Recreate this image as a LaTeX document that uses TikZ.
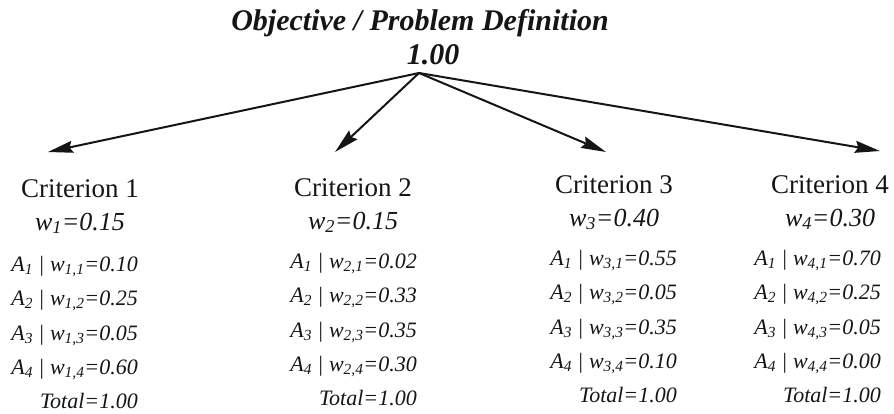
\documentclass[tikz,border=0pt]{standalone}
\usepackage{fontspec}
\setmainfont{Liberation Serif}
\usetikzlibrary{arrows.meta}
\definecolor{Ink}{HTML}{151515}
\tikzset{
    goal/.style={text=Ink, font=\fontsize{30}{32}\selectfont\bfseries\itshape, anchor=base, inner sep=0pt},
    crit/.style={text=Ink, font=\fontsize{27}{29}\selectfont, anchor=base, inner sep=0pt},
    wgt/.style={text=Ink, font=\fontsize{26}{28}\selectfont\itshape, anchor=base, inner sep=0pt},
    alt/.style={text=Ink, font=\fontsize{22}{24}\selectfont\itshape, anchor=base east, inner sep=0pt},
    branch/.style={Ink, line width=2pt, -{Stealth[length=25pt, width=12pt, inset=3pt]}}
}
\NewDocumentCommand{\CritColumn}{m m m m m m m m}{
    \begin{scope}[name prefix=C#3-]
    \node[crit] (head) at #1 {Criterion #3};
    \node[wgt] (weight) at ([yshift=-33pt]head.base) {w\textsubscript{#3}=#4};
    \coordinate (rows) at #2;
    \node[alt] (a1) at (rows) {A\textsubscript{1} | w\textsubscript{#3,1}=#5};
    \node[alt] (a2) at ([yshift=-34.5pt]a1.base east) {A\textsubscript{2} | w\textsubscript{#3,2}=#6};
    \node[alt] (a3) at ([yshift=-34.5pt]a2.base east) {A\textsubscript{3} | w\textsubscript{#3,3}=#7};
    \node[alt] (a4) at ([yshift=-34.5pt]a3.base east) {A\textsubscript{4} | w\textsubscript{#3,4}=#8};
    \node[alt] (total) at ([yshift=-34pt]a4.base east) {Total=1.00};
    \end{scope}
}

\begin{document}
\begin{tikzpicture}[x=1pt, y=-1pt]
\useasboundingbox (0,0) rectangle (894,413);

\node[goal] (goal) at (420,30) {Objective / Problem Definition};
\node[goal] (goal-value) at (433,64) {1.00};
\coordinate (apex) at (419,73);

\coordinate (tip-1) at (48,152);
\coordinate (tip-2) at (335,152);
\coordinate (tip-3) at (606,152);
\coordinate (tip-4) at (880,151);

\draw[branch] (apex) -- (tip-1);
\draw[branch] (apex) -- (tip-2);
\draw[branch] (apex) -- (tip-3);
\draw[branch] (apex) -- (tip-4);

\CritColumn{(80,197)}{(138,271)}{1}{0.15}{0.10}{0.25}{0.05}{0.60}
\CritColumn{(353,196)}{(417,268)}{2}{0.15}{0.02}{0.33}{0.35}{0.30}
\CritColumn{(614,193)}{(677,265)}{3}{0.40}{0.55}{0.05}{0.35}{0.10}
\CritColumn{(830,193)}{(881,265)}{4}{0.30}{0.70}{0.25}{0.05}{0.00}
\end{tikzpicture}
\end{document}
